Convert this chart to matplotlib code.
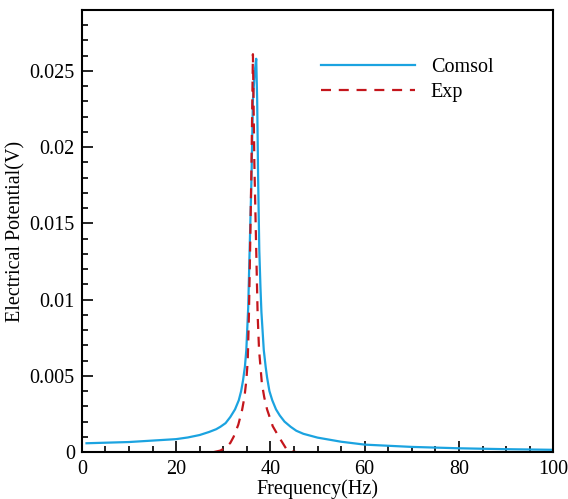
import numpy as np
import matplotlib.pyplot as plt

plt.rcParams['font.family'] = ['Liberation Serif', 'DejaVu Serif']

# Comsol simulation (frequency in Hz, potential in V)
freq_comsol = [1, 10, 20, 22.5, 25, 27, 28.5, 29.4, 30.5, 31.5, 32.5, 33.3, 33.8, 34.2, 34.6,
               34.9, 35.3, 35.6, 36.0, 36.3, 36.7, 37.0, 37.2, 37.4, 37.65, 37.9, 38.1, 38.6,
               39.0, 39.3, 39.8, 40.4, 41.2, 42, 43, 44.3, 45.5, 47, 50, 55, 60, 70, 80, 90, 100]
volt_comsol = [0.00058, 0.00066, 0.00085, 0.00096, 0.00112, 0.00132, 0.00150, 0.00166, 0.0019,
               0.0023, 0.0028, 0.0034, 0.0040, 0.0047, 0.0056, 0.0067, 0.0095, 0.01325, 0.0180,
               0.0231, 0.0250, 0.0258, 0.0231, 0.0180, 0.01325, 0.0108, 0.0092, 0.0067, 0.0056,
               0.0049, 0.0040, 0.0034, 0.0028, 0.0024, 0.0020, 0.00166, 0.0014, 0.0012, 0.00095,
               0.00068, 0.00049, 0.00034, 0.00025, 0.00019, 0.00015]

# Experimental data
freq_exp = [28, 29.4, 30.5, 31.5, 32.2, 33.2, 34.0, 34.5, 34.9, 35.2, 35.45, 35.7, 36.0, 36.3,
            36.6, 37.0, 37.3, 37.6, 38.2, 38.7, 39.3, 40.5, 41.8, 42.8, 43.6, 45.5]
volt_exp = [0.0, 0.0001, 0.0003, 0.0006, 0.0010, 0.0018, 0.00276, 0.0036, 0.0047, 0.0060,
            0.0090, 0.01325, 0.0190, 0.0261, 0.0190, 0.01325, 0.0090, 0.0067, 0.0045, 0.0036,
            0.0028, 0.0017, 0.0010, 0.0005, 0.0001, 0.0]

fig = plt.figure(figsize=(5.68, 4.99), dpi=100)
ax = fig.add_axes([0.144, 0.094, 0.830, 0.886])

ax.plot(freq_comsol, volt_comsol, color='#1ba3e0', lw=1.6, label='Comsol')
ax.plot(freq_exp, volt_exp, color='#c4161c', lw=1.6, dashes=(4.5, 3.5), label='Exp')

ax.set_xlim(0, 100)
ax.set_ylim(0, 0.029)
ax.set_xticks([0, 20, 40, 60, 80, 100])
ax.set_xticks(np.arange(0, 101, 5), minor=True)
ax.set_yticks([0, 0.005, 0.01, 0.015, 0.02, 0.025])
ax.set_yticklabels(['0', '0.005', '0.01', '0.015', '0.02', '0.025'])
ax.set_yticks(np.arange(0, 0.0291, 0.001), minor=True)
ax.tick_params(which='both', direction='in', top=False, right=False, labelsize=14.5, width=1.2)
ax.tick_params(which='major', length=8)
ax.tick_params(which='minor', length=4)
ax.tick_params(axis='x', pad=6)
ax.tick_params(axis='y', pad=5)
for s in ax.spines.values():
    s.set_linewidth(1.5)

ax.set_xlabel('Frequency(Hz)', fontsize=14.5, labelpad=0)
ax.set_ylabel('Electrical Potential(V)', fontsize=14.5, labelpad=3)

ax.legend(loc='upper left', bbox_to_anchor=(0.486, 0.914), frameon=False, fontsize=14.5,
          handlelength=4.65, handletextpad=0.8, labelspacing=0.3, borderpad=0)

plt.savefig('out.png', dpi=100)
